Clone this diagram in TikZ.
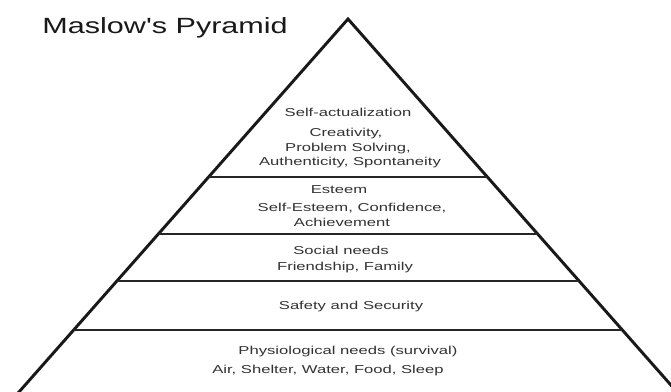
\documentclass[tikz,border=0pt]{standalone}
\usepackage{fontspec}
\newfontfamily\arialike{Liberation Sans}
\usetikzlibrary{positioning}

\begin{document}
\begin{tikzpicture}[x=0.75pt,y=-0.75pt,
  edge/.style={line width=2.2pt, black!90, line join=miter},
  tier/.style={line width=1.5pt, black!85},
  lvl/.style={font=\arialike\fontsize{8.6}{10}\selectfont, text=black!80, xscale=1.45, inner sep=0pt, anchor=base},
  ttl/.style={font=\arialike\fontsize{16.5}{20}\selectfont, text=black!90, xscale=1.39, inner sep=0pt, anchor=base west}]
\fill[white] (0,0) rectangle (671,392);
\useasboundingbox (0,0) rectangle (671,392);
% pyramid outline, cut off by the page bottom
\begin{scope}
\clip (0,0) rectangle (671,392);
\coordinate (top) at (348,19);
\coordinate (bl) at (12.8,399);
\coordinate (br) at (683.2,399);
\draw[edge] (bl) -- (top) -- (br);
\foreach \y in {177,234,281,329.5}
  \draw[tier] ({348-0.882*(\y-19)},\y) -- ({348+0.882*(\y-19)},\y);
\end{scope}
\node[ttl] (title) at (42,34) {Maslow's Pyramid};
% levels
\node[lvl] (selfact) at (348,117) {Self-actualization};
\node[lvl] (creat) at (346,137) {Creativity,};
\node[lvl] (probl) at (348,152) {Problem Solving,};
\node[lvl] (authen) at (350,166) {Authenticity, Spontaneity};
\node[lvl] (esteem) at (339,194) {Esteem};
\node[lvl] (confid) at (352,212) {Self-Esteem, Confidence,};
\node[lvl] (achiev) at (342,226) {Achievement};
\node[lvl] (social) at (341,254) {Social needs};
\node[lvl] (friend) at (345,270) {Friendship, Family};
\node[lvl] (safety) at (351,309) {Safety and Security};
\node[lvl] (physio) at (348,354) {Physiological needs (survival)};
\node[lvl] (basic) at (328,373) {Air, Shelter, Water, Food, Sleep};
\end{tikzpicture}
\end{document}
